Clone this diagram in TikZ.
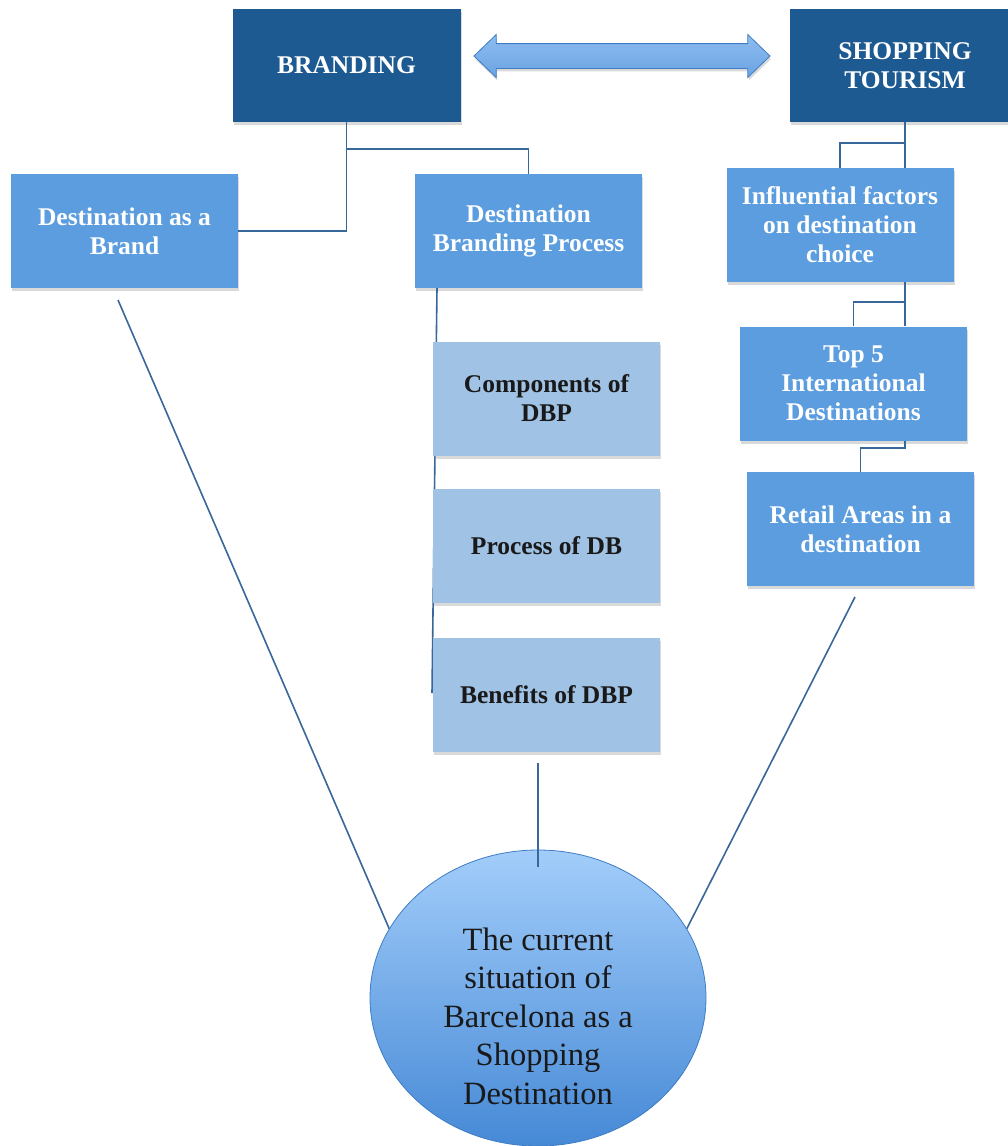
\documentclass[tikz,border=0pt]{standalone}
\usepackage{fontspec}
\setmainfont{Liberation Serif}
\usepackage{tikz}
\usetikzlibrary{shapes.geometric,shapes.arrows,shadows,calc}
\definecolor{branddark}{HTML}{1D5A91}
\definecolor{boxmid}{HTML}{5B9DDE}
\definecolor{boxlight}{HTML}{A0C2E5}
\definecolor{linkblue}{HTML}{38679A}
\definecolor{hubedge}{HTML}{3E7CC4}
\definecolor{hubtopc}{HTML}{A2CDFA}
\definecolor{hubbotc}{HTML}{4689D6}
\definecolor{tietopc}{HTML}{8DBDF0}
\definecolor{tiebotc}{HTML}{6AA3E3}
\tikzset{softshadow/.style={drop shadow={shadow xshift=1pt,shadow yshift=-3pt,opacity=0.3}}}
\tikzset{topbox/.style={fill=branddark, text=white, minimum width=228pt, minimum height=113pt, font=\bfseries\fontsize{25.5}{29}\selectfont, softshadow}}
\tikzset{midbox/.style={fill=boxmid, text=white, minimum width=227pt, minimum height=114pt, font=\bfseries\fontsize{25.5}{29}\selectfont, softshadow}}
\tikzset{lightbox/.style={fill=boxlight, text=black!90, minimum width=227pt, minimum height=114pt, font=\bfseries\fontsize{25.5}{29}\selectfont, softshadow}}
\tikzset{link/.style={draw=linkblue, line width=1.6pt}}

\begin{document}
\begin{tikzpicture}[x=1pt, y=-1pt]
	% Default action for each node
	\tikzstyle{every node}=[align=center, inner sep=0pt];
	\useasboundingbox (0,0) rectangle (1008,1146);

	\node[topbox] (branding) at (346.5,65.5) {BRANDING};
	\node[topbox, minimum width=230pt] (shopping) at (905,65.5) {SHOPPING\\TOURISM};
	\node[double arrow, minimum height=296pt, inner xsep=0pt, inner ysep=12pt, double arrow head extend=9pt, double arrow tip angle=88,
		draw=hubedge, line width=0.8pt, top color=tietopc, bottom color=tiebotc, softshadow] (tie) at (622,56) {};

	\node[midbox] (destbrand) at (124.5,231) {Destination as a\\Brand};
	\node[midbox] (dbp) at (528.5,231) {Destination\\Branding Process};
	\node[midbox] (influence) at (840,225) {Influential factors\\on destination\\choice};
	\node[midbox] (topfive) at (853.5,383.5) {Top 5\\International\\Destinations};
	\node[midbox] (retail) at (860.5,529) {Retail Areas in a\\destination};

	% Spine behind the DBP parts
	\coordinate (dbpfoot) at (432,693);
	\draw[link] (dbp.south -| 437,0) -- (dbpfoot);

	\node[lightbox] (components) at (546.5,398.5) {Components of\\DBP};
	\node[lightbox] (process) at (546.5,546) {Process of DB};
	\node[lightbox] (benefits) at (546.5,694.5) {Benefits of DBP};

	\node[ellipse, minimum width=336pt, minimum height=296pt, draw=hubedge, line width=0.8pt, top color=hubtopc, bottom color=hubbotc] (barca) at (538,998) {};
	\node[font=\fontsize{32.5}{38.5}\selectfont, text=black!90] (barcatext) at (538,1016) {The current\\situation of\\Barcelona as a\\Shopping\\Destination};

	% Branding tree
	\draw[link] (branding.south) -- (branding.south |- 0,149) -| (dbp.north);
	\draw[link] (branding.south) |- (destbrand.east);

	% Shopping tree
	\draw[link] (shopping.south) -- (shopping.south |- influence.north);
	\draw[link] (shopping.south |- 0,143) -| (influence.north);
	\draw[link] (influence.south -| shopping.south) -- (topfive.north -| shopping.south);
	\draw[link] (shopping.south |- 0,302) -| (topfive.north);
	\draw[link] (topfive.south -| shopping.south) -- ++(0,7) -| (retail.north);

	% Into the hub
	\coordinate (brandfoot) at (118,300);
	\coordinate (benefitsfoot) at (538,763);
	\coordinate (hubtop) at (538,867);
	\coordinate (retailfoot) at (855,597);
	\draw[link] (brandfoot) -- (barca.155);
	\draw[link] (benefitsfoot) -- (hubtop);
	\draw[link] (retailfoot) -- (barca.25);
\end{tikzpicture}
\end{document}
